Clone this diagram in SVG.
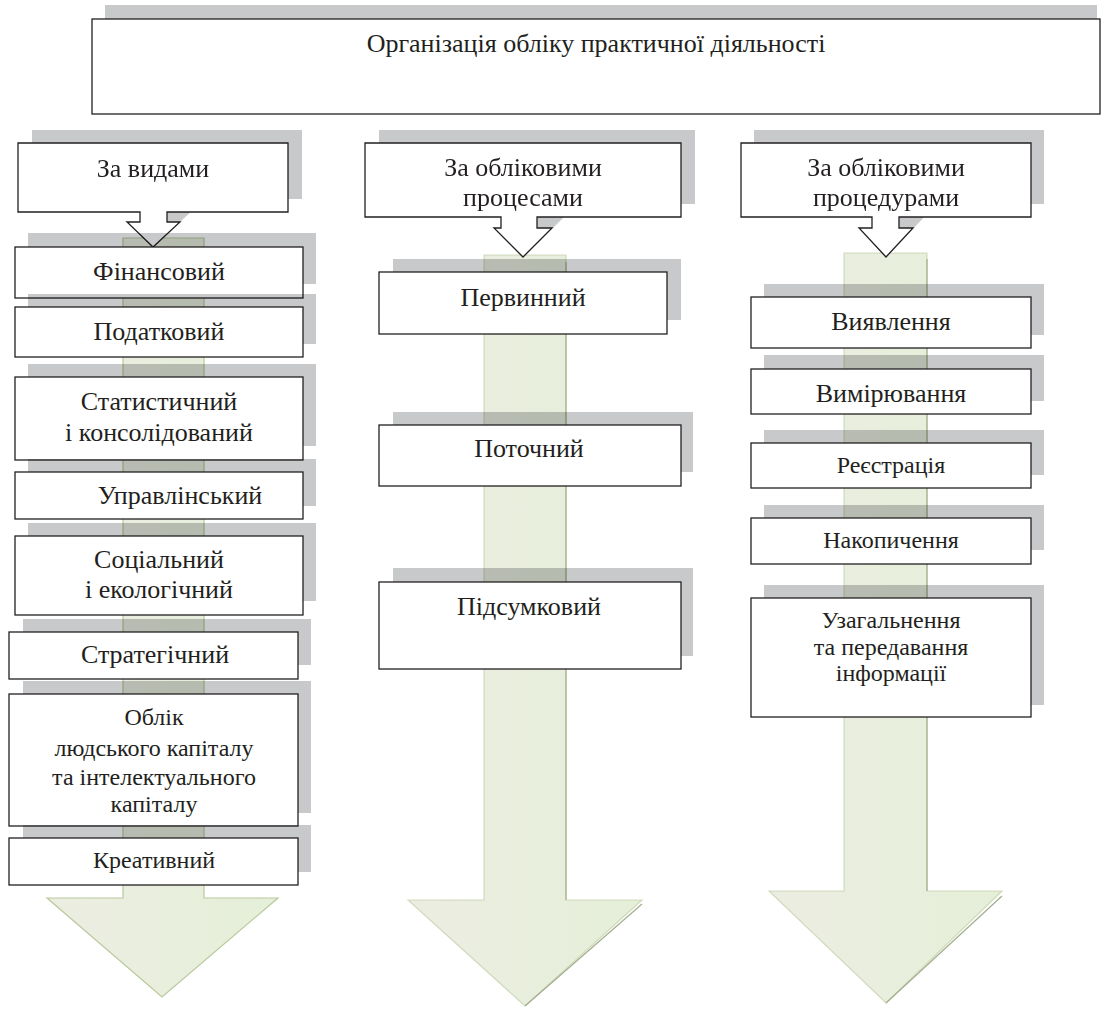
<svg xmlns="http://www.w3.org/2000/svg" width="1103" height="1009" viewBox="0 0 1103 1009">
<style>
.sh{fill:#c8c9cb;mix-blend-mode:multiply}
.bx{fill:#fff;stroke:#231f20;stroke-width:1.3}
.t{font-family:"Liberation Serif","Times New Roman",serif;font-size:26px;fill:#231f20;text-anchor:middle}
.s{font-size:24px}
.arr{stroke:#b9c99c;stroke-width:1.2}
.edge{fill:none;stroke:#a3ad8c;stroke-width:1.2}
</style>
<defs>
<linearGradient id="g" x1="0" y1="0" x2="1" y2="0">
<stop offset="0" stop-color="#ecede2"/>
<stop offset="1" stop-color="#e5efd8"/>
</linearGradient>
</defs>
<rect width="1103" height="1009" fill="#fff"/>
<g id="connectors">
<polygon class="arr" fill="url(#g)" points="123,238 204,238 204,898 278,898 162,997 47,898 123,898"/>
<polygon class="arr" fill="url(#g)" stroke-opacity="0.6" points="484,255 566,255 566,900 642,900 525,1006 408,900 484,900"/>
<polyline class="edge" points="566,262 566,900"/>
<polyline class="edge" points="642,904 525,1006"/>
<polygon class="arr" fill="url(#g)" stroke-opacity="0.6" points="844,253 927,253 927,891 1002,891 886,1003 769,891 844,891"/>
<polyline class="edge" points="927,259 927,891"/>
<polyline class="edge" points="1002,896 886,1003"/>
</g>
<g id="title">
<rect class="sh" x="105" y="5" width="992" height="95"/>
<rect class="bx" x="92" y="19" width="1008" height="95"/>
<text class="t" x="596" y="52">Організація обліку практичної діяльності</text>
</g>
<g id="cat1">
<path class="sh" transform="translate(14,-13)" d="M18,143H288V212H167V222H180L153,247L127,222H140V212H18Z"/>
<path class="bx" d="M18,143H288V212H167V222H180L153,247L127,222H140V212H18Z"/>
<text class="t" x="153" y="177">За видами</text>
</g>
<g id="cat2">
<path class="sh" transform="translate(14,-13)" d="M365,143H681V217H537V228H552L523,257L494,228H501V217H365Z"/>
<path class="bx" d="M365,143H681V217H537V228H552L523,257L494,228H501V217H365Z"/>
<text class="t" x="523" y="176">За обліковими</text>
<text class="t" x="523" y="206">процесами</text>
</g>
<g id="cat3">
<path class="sh" transform="translate(13,-13)" d="M741,143H1031V217H899V228H913L886,257L859,228H872V217H741Z"/>
<path class="bx" d="M741,143H1031V217H899V228H913L886,257L859,228H872V217H741Z"/>
<text class="t" x="886" y="176">За обліковими</text>
<text class="t" x="886" y="206">процедурами</text>
</g>
<g id="n-fin">
<rect class="sh" x="28" y="233" width="288" height="51"/>
<rect class="bx" x="15" y="247" width="288" height="51"/>
<text class="t" x="159" y="280">Фінансовий</text>
</g>
<g id="n-pod">
<rect class="sh" x="28" y="294" width="288" height="50"/>
<rect class="bx" x="15" y="307" width="288" height="50"/>
<text class="t" x="159" y="340">Податковий</text>
</g>
<g id="n-stat">
<rect class="sh" x="28" y="364" width="288" height="82"/>
<rect class="bx" x="15" y="377" width="288" height="83"/>
<text class="t" x="159" y="410">Статистичний</text>
<text class="t" x="159" y="441">і консолідований</text>
</g>
<g id="n-upr">
<rect class="sh" x="28" y="459" width="288" height="47"/>
<rect class="bx" x="15" y="472" width="288" height="47"/>
<text class="t" x="180" y="504">Управлінський</text>
</g>
<g id="n-soc">
<rect class="sh" x="28" y="523" width="288" height="78"/>
<rect class="bx" x="15" y="536" width="288" height="79"/>
<text class="t" x="159" y="568">Соціальний</text>
<text class="t" x="159" y="598">і екологічний</text>
</g>
<g id="n-str">
<rect class="sh" x="23" y="619" width="288" height="46"/>
<rect class="bx" x="9" y="632" width="289" height="47"/>
<text class="t" x="155" y="663">Стратегічний</text>
</g>
<g id="n-obl">
<rect class="sh" x="23" y="681" width="288" height="132"/>
<rect class="bx" x="9" y="694" width="289" height="132"/>
<text class="t s" x="154" y="725">Облік</text>
<text class="t s" x="154" y="756">людського капіталу</text>
<text class="t s" x="154" y="785">та інтелектуального</text>
<text class="t s" x="154" y="812">капіталу</text>
</g>
<g id="n-kre">
<rect class="sh" x="23" y="825" width="288" height="47"/>
<rect class="bx" x="9" y="838" width="289" height="47"/>
<text class="t s" x="154" y="868">Креативний</text>
</g>
<g id="n-perv">
<rect class="sh" x="393" y="259" width="288" height="61"/>
<rect class="bx" x="379" y="272" width="288" height="62"/>
<text class="t" x="523" y="306">Первинний</text>
</g>
<g id="n-pot">
<rect class="sh" x="393" y="412" width="300" height="60"/>
<rect class="bx" x="379" y="425" width="302" height="61"/>
<text class="t" x="529" y="457">Поточний</text>
</g>
<g id="n-pid">
<rect class="sh" x="393" y="568" width="300" height="88"/>
<rect class="bx" x="379" y="582" width="302" height="87"/>
<text class="t" x="529" y="615">Підсумковий</text>
</g>
<g id="n-vyy">
<rect class="sh" x="764" y="284" width="280" height="51"/>
<rect class="bx" x="751" y="297" width="280" height="51"/>
<text class="t" x="891" y="330">Виявлення</text>
</g>
<g id="n-vym">
<rect class="sh" x="764" y="355" width="280" height="46"/>
<rect class="bx" x="751" y="369" width="280" height="45"/>
<text class="t" x="891" y="402">Вимірювання</text>
</g>
<g id="n-reye">
<rect class="sh" x="764" y="430" width="280" height="45"/>
<rect class="bx" x="751" y="443" width="280" height="45"/>
<text class="t s" x="891" y="473">Реєстрація</text>
</g>
<g id="n-nak">
<rect class="sh" x="764" y="505" width="280" height="45"/>
<rect class="bx" x="751" y="518" width="280" height="46"/>
<text class="t s" x="891" y="548">Накопичення</text>
</g>
<g id="n-uza">
<rect class="sh" x="764" y="585" width="280" height="120"/>
<rect class="bx" x="751" y="598" width="280" height="119"/>
<text class="t s" x="891" y="628">Узагальнення</text>
<text class="t s" x="891" y="655">та передавання</text>
<text class="t s" x="891" y="681">інформації</text>
</g>
</svg>
